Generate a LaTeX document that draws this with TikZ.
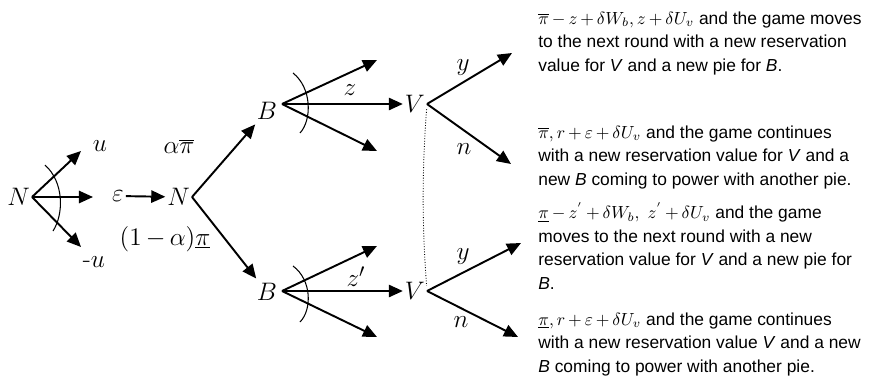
\documentclass[tikz,border=0pt]{standalone}
\usepackage{fontspec}
\setsansfont{Liberation Sans}
\usetikzlibrary{arrows.meta,positioning}

\newcommand{\payexpr}[1]{{\fontsize{10.4}{13.3}\selectfont$\medmuskip=3mu #1$}}

\begin{document}
\begin{tikzpicture}[
  x=0.02cm,
  y=-0.02cm,
  lbl/.style={font=\fontsize{15}{17}\selectfont, inner sep=1pt},
  payoff/.style={anchor=base west, align=left, inner sep=0pt,
    font=\sffamily\fontsize{9.9}{13.3}\selectfont},
  move/.style={line width=1.1pt, -{Triangle[length=8pt,width=7pt]}},
  cut/.style={line width=0.6pt},
  infoset/.style={densely dotted, line width=0.5pt}
]
\useasboundingbox (0,0) rectangle (871,379);

% nature draws the shock
\coordinate (n0) at (32,197);
\node[lbl, anchor=east] (N0) at (n0) {$N$};
\coordinate (uTip) at (81,151);
\coordinate (eTip) at (93,197);
\coordinate (muTip) at (81,247);
\draw[move] (n0) -- (uTip);
\draw[move] (n0) -- (eTip);
\draw[move] (n0) -- (muTip);
\draw[cut] (45,165) .. controls (64,182) and (64,214) .. (53,231);
\node[lbl] (u) at (100,146) {$u$};
\node[lbl] (eps) at (118,196) {$\varepsilon$};
\node[lbl] (mu) at (94,262) {-$u$};

% nature draws the pie
\coordinate (n1) at (192,197);
\node[lbl, anchor=east] (N1) at (n1) {$N$};
\draw[move] (eps) -- (N1);
\node[lbl] (pHi) at (179,146) {$\alpha\overline{\pi}$};
\node[lbl] (pLo) at (165,239) {$\medmuskip=3mu(1-\alpha)\underline{\pi}$};

% buyer offers
\coordinate (b1) at (282,104);
\coordinate (b2) at (282,291);
\node[lbl, anchor=east] (B1) at (279,111) {$B$};
\node[lbl, anchor=east] (B2) at (279,292) {$B$};
\draw[move, shorten >=2pt] (n1) -- (B1);
\draw[move, shorten >=2pt] (n1) -- (B2);

\coordinate (v1) at (427,104);
\coordinate (v2) at (427,291);
\node[lbl, anchor=east] (V1) at (v1) {$V$};
\node[lbl, anchor=east] (V2) at (v2) {$V$};

\coordinate (b1Up) at (377,60);
\coordinate (b1Dn) at (377,151);
\draw[move] (b1) -- (b1Up);
\draw[move] (b1) -- (V1.west);
\draw[move] (b1) -- (b1Dn);
\draw[cut] (293,73) .. controls (312,88) and (312,120) .. (300,133);
\node[lbl] (z) at (350,90) {$z$};

\coordinate (b2Up) at (377,246);
\coordinate (b2Dn) at (377,337);
\draw[move] (b2) -- (b2Up);
\draw[move] (b2) -- (V2.west);
\draw[move] (b2) -- (b2Dn);
\draw[cut] (293,266) .. controls (312,280) and (312,310) .. (300,322);
\node[lbl] (zp) at (356,277) {$z'$};

% seller responds
\coordinate (v1Y) at (512,53);
\coordinate (v1N) at (511,164);
\coordinate (v2Y) at (521,243);
\coordinate (v2N) at (518,337);
\draw[move] (v1) -- (v1Y);
\draw[move] (v1) -- (v1N);
\draw[move] (v2) -- (v2Y);
\draw[move] (v2) -- (v2N);
\node[lbl] (y1) at (463,68) {$y$};
\node[lbl] (n1l) at (464,149) {$n$};
\node[lbl] (y2) at (463,257) {$y$};
\node[lbl] (n2l) at (461,322) {$n$};
\draw[infoset, shorten <=3pt, shorten >=3pt] (v1) .. controls (422,170) and (422,225) .. (v2);

% outcomes (anchored on the last line)
\node[payoff] (o1) at (538,71) {\payexpr{\overline{\pi}-z+\delta W_b, z+\delta U_v} and the game moves\\
  to the next round with a new reservation\\
  value for \textit{V} and a new pie for \textit{B}.};
\node[payoff] (o2) at (538,185) {\payexpr{\overline{\pi}, r+\varepsilon+\delta U_v} and the game continues\\
  with a new reservation value for \textit{V} and a\\
  new \textit{B} coming to power with another pie.};
\node[payoff] (o3) at (538,289) {\payexpr{\underline{\pi}-z^{'}+\delta W_b,\ z^{'}+\delta U_v} and the game\\
  moves to the next round with a new\\
  reservation value for \textit{V} and a new pie for\\
  \textit{B}.};
\node[payoff] (o4) at (538,372) {\payexpr{\underline{\pi}, r+\varepsilon+\delta U_v} and the game continues\\
  with a new reservation value \textit{V} and a new\\
  \textit{B} coming to power with another pie.};
\end{tikzpicture}
\end{document}
